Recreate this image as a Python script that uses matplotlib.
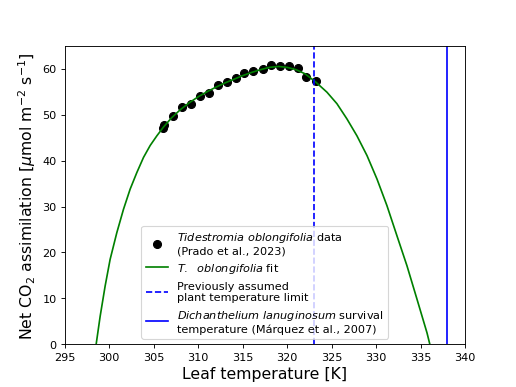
import matplotlib
matplotlib.use("Agg")
import matplotlib.pyplot as plt

# Measured data (Tidestromia oblongifolia)
data_T = [306.0, 306.2, 307.2, 308.2, 309.2, 310.2, 311.2, 312.2, 313.2, 314.3,
          315.2, 316.2, 317.3, 318.2, 319.2, 320.2, 321.2, 322.1, 323.2]
data_A = [47.2, 47.7, 49.8, 51.6, 52.4, 54.0, 54.7, 56.4, 57.2, 58.0,
          59.1, 59.5, 59.9, 60.9, 60.7, 60.6, 60.2, 58.2, 57.3]

# Fit curve
fit_T = [297.9, 298.54, 298.99, 299.55, 300.11, 300.86, 301.61, 302.36, 303.11, 303.86,
         304.61, 305.36, 306.1, 307.0, 308.0, 309.0, 310.0, 311.0, 312.0, 313.0,
         314.0, 315.0, 316.0, 317.0, 318.0, 319.0, 320.0, 321.0, 322.0, 323.15,
         324.46, 325.58, 326.7, 327.83, 328.96, 330.08, 331.2, 332.33, 333.45, 334.58,
         335.7, 336.07, 336.6]
fit_A = [-9.0, 0.0, 6.1, 12.7, 18.5, 24.3, 29.4, 33.8, 37.4, 40.7,
         43.3, 45.4, 47.3, 49.3, 51.1, 52.6, 53.9, 55.0, 56.0, 56.9,
         57.7, 58.5, 59.2, 59.8, 60.3, 60.5, 60.3, 59.8, 58.9, 57.2,
         54.9, 52.4, 49.1, 45.4, 41.1, 36.0, 30.2, 23.6, 17.1, 9.8,
         2.5, -0.4, -4.5]

limit_T = 323.0
survival_T = 338.0

fig, ax = plt.subplots(figsize=(6.4, 4.8), dpi=80.78)
fig.subplots_adjust(left=0.125, right=0.9, bottom=0.11, top=0.88)

ax.scatter(data_T, data_A, s=50, color="black",
           label="$\\it{Tidestromia\\ oblongifolia}$ data\n(Prado et al., 2023)")
ax.plot(fit_T, fit_A, color="green", lw=1.5, label="$\\it{T.\\ \\ oblongifolia}$ fit")
ax.axvline(limit_T, color="blue", ls="--", lw=1.5,
           label="Previously assumed\nplant temperature limit")
ax.axvline(survival_T, color="blue", ls="-", lw=1.5,
           label="$\\it{Dichanthelium\\ lanuginosum}$ survival\ntemperature (Márquez et al., 2007)")

ax.set_xlim(295, 340)
ax.set_ylim(0, 65)
ax.set_xticks(range(295, 341, 5))
ax.set_yticks(range(0, 61, 10))
ax.set_xlabel("Leaf temperature [K]", fontsize=14)
ax.set_ylabel("Net CO$_2$ assimilation [$\\mu$mol m$^{-2}$ s$^{-1}$]", fontsize=14)
ax.legend(loc="lower center", fontsize=10)

fig.savefig("out.png", dpi=80.78)
